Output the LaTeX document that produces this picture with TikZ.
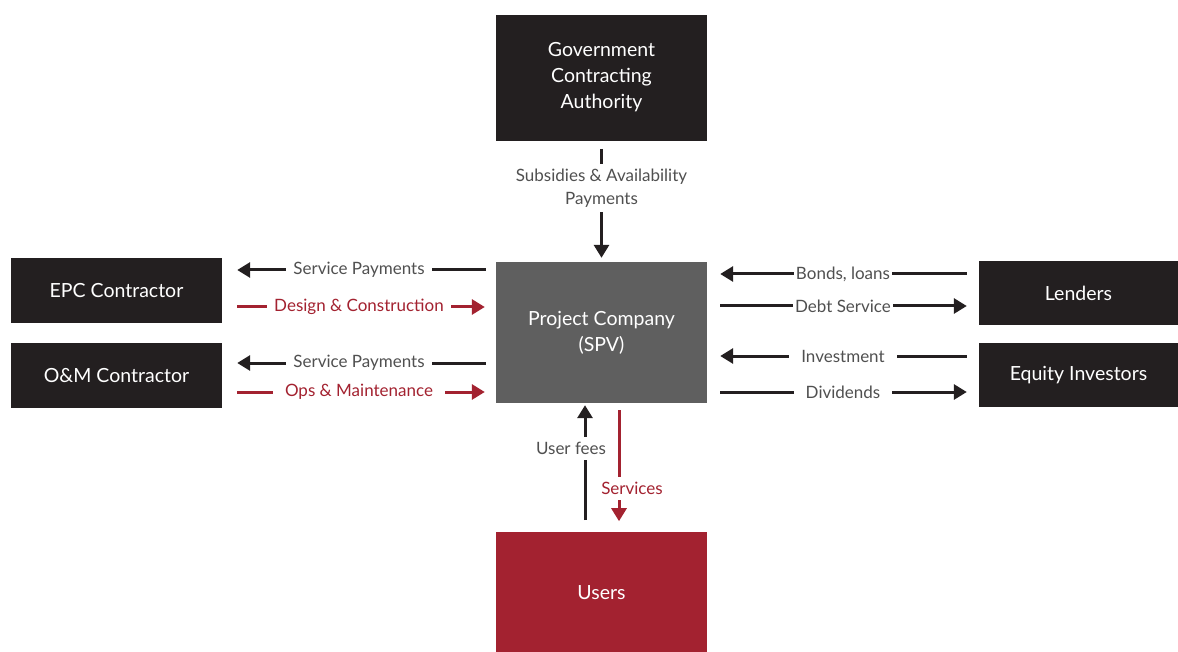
\documentclass[tikz,border=0pt]{standalone}
\usepackage{fontspec}
\setmainfont{Lato}
\usetikzlibrary{positioning,arrows.meta}
\usepackage{xcolor}
\definecolor{ppDark}{HTML}{231F20}
\definecolor{ppGrey}{HTML}{5F5F5F}
\definecolor{ppRed}{HTML}{A32230}
\definecolor{ppText}{HTML}{505050}

\begin{document}
\begin{tikzpicture}[x=1pt,y=-1pt,>={Triangle[length=13pt,width=15pt]},font=\fontsize{17}{23}\selectfont]
  \tikzstyle{box}=[fill=ppDark,text=white,align=center,inner sep=0pt,minimum width=211pt,font=\fontsize{19.5}{26}\selectfont]
  \tikzstyle{flow}=[line width=3pt,ppDark]
  \tikzstyle{redflow}=[line width=3pt,ppRed]
  \tikzstyle{lbl}=[fill=white,text=ppText,inner xsep=7pt,inner ysep=5pt,align=center]
  \tikzstyle{redlbl}=[fill=white,text=ppRed,inner xsep=7pt,inner ysep=5pt]
  \useasboundingbox (0,0) rectangle (1178,652);
  \node[box,fill=ppGrey,minimum height=141pt] (spv) at (601.5,332.5) {Project Company\\(SPV)};
  \node[box,minimum height=126pt,above=121pt of spv] (gov) {Government\\Contracting\\Authority};
  \node[box,fill=ppRed,minimum height=120pt,below=129pt of spv] (users) {Users};
  \node[box,minimum height=65pt] (epc) at (116.5,290.5) {EPC Contractor};
  \node[box,minimum height=65pt] (om) at (116.5,375.5) {O\&M Contractor};
  \node[box,minimum width=199pt,minimum height=64pt] (lend) at (1078.5,293) {Lenders};
  \node[box,minimum width=199pt,minimum height=64pt] (eq) at (1078.5,375) {Equity Investors};
  % government and users
  \draw[flow,->,shorten <=8pt,shorten >=4pt] (gov) -- (spv) node[lbl,pos=.39]{Subsidies \& Availability\\Payments};
  \draw[flow,->,shorten <=12pt,shorten >=2pt] ([xshift=-16.5pt]users.north) -- ([xshift=-16.5pt]spv.south) node[lbl,pos=.65,xshift=-14pt]{User fees};
  \draw[redflow,->,shorten <=7pt,shorten >=11pt] ([xshift=17.5pt]spv.south) -- ([xshift=17.5pt]users.north) node[redlbl,pos=.66,xshift=13pt]{Services};
  % contractors
  \draw[flow,->,shorten <=10pt,shorten >=15pt] ([yshift=20.5pt]epc.east -| spv.west) -- ([yshift=20.5pt]epc.east) node[lbl,midway]{Service Payments};
  \draw[redflow,->,shorten <=15pt,shorten >=11pt] ([yshift=-16.5pt]epc.east) -- ([yshift=-16.5pt]epc.east -| spv.west) node[redlbl,midway]{Design \& Construction};
  \draw[flow,->,shorten <=10pt,shorten >=15pt] ([yshift=12.5pt]om.east -| spv.west) -- ([yshift=12.5pt]om.east) node[lbl,midway]{Service Payments};
  \draw[redflow,->,shorten <=15pt,shorten >=11pt] ([yshift=-16.5pt]om.east) -- ([yshift=-16.5pt]om.east -| spv.west) node[redlbl,midway,inner xsep=12pt]{Ops \& Maintenance};
  % lenders and investors
  \draw[flow,->,shorten <=12pt,shorten >=13pt] ([yshift=19pt]lend.west) -- ([yshift=19pt]lend.west -| spv.east) node[lbl,midway,inner xsep=2pt]{Bonds, loans};
  \draw[flow,->,shorten <=13pt,shorten >=12pt] ([yshift=-13pt]lend.west -| spv.east) -- ([yshift=-13pt]lend.west) node[lbl,midway,inner xsep=2pt]{Debt Service};
  \draw[flow,->,shorten <=12pt,shorten >=13pt] ([yshift=19pt]eq.west) -- ([yshift=19pt]eq.west -| spv.east) node[lbl,midway,inner xsep=12pt]{Investment};
  \draw[flow,->,shorten <=13pt,shorten >=12pt] ([yshift=-17pt]eq.west -| spv.east) -- ([yshift=-17pt]eq.west) node[lbl,midway,inner xsep=12pt]{Dividends};
\end{tikzpicture}
\end{document}
